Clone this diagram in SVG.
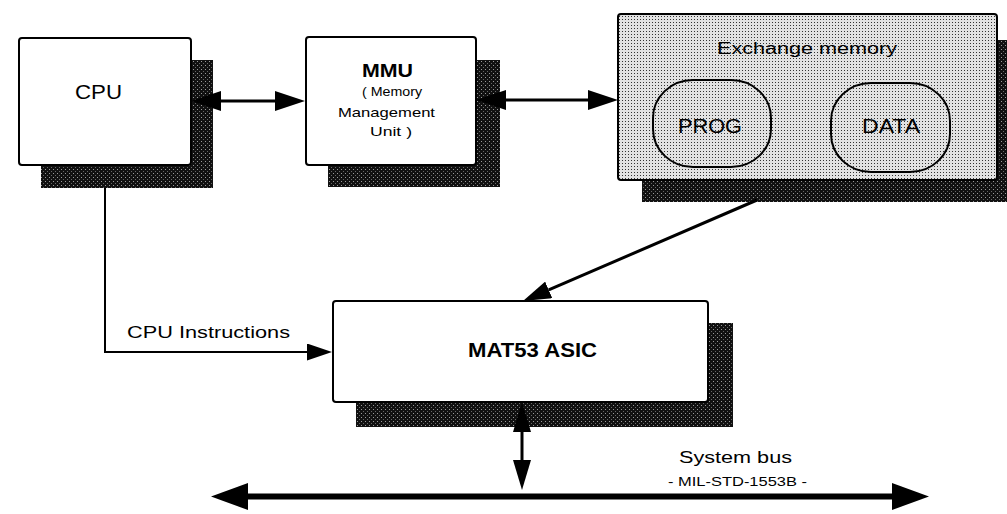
<svg xmlns="http://www.w3.org/2000/svg" width="1007" height="514" viewBox="0 0 1007 514">
  <style>
    .box { fill: #ffffff; stroke: #000; stroke-width: 2; }
    .grey { fill: url(#halftone); stroke: #000; stroke-width: 2; }
    .shadow { fill: url(#shade); }
    .lbl { font-family: "Liberation Sans", Arial, sans-serif; fill: #000; }
    .b { font-weight: bold; }
    .wire { fill: none; stroke: #000; }
  </style>
  <defs>
    <!-- dark halftone used for the drop shadows -->
    <pattern id="shade" width="4" height="4" patternUnits="userSpaceOnUse">
      <rect width="4" height="4" fill="#111"/>
      <rect x="1" y="1" width="1" height="1" fill="#9a9a9a"/>
      <rect x="3" y="3" width="1" height="1" fill="#666"/>
    </pattern>
    <!-- light halftone for the memory block -->
    <pattern id="halftone" width="3" height="3" patternUnits="userSpaceOnUse">
      <rect width="3" height="3" fill="#e2e2e2"/>
      <rect x="1" y="1" width="1" height="1" fill="#333"/>
    </pattern>
    <!-- arrowheads: the base sits on the path end, the tip points outward -->
    <marker id="headL" markerUnits="userSpaceOnUse" markerWidth="30" markerHeight="20" viewBox="0 0 30 20" refX="0" refY="10" orient="auto-start-reverse">
      <path d="M0,0 L30,10 L0,20 z" fill="#000"/>
    </marker>
    <marker id="headD" markerUnits="userSpaceOnUse" markerWidth="28" markerHeight="18" viewBox="0 0 28 18" refX="0" refY="9" orient="auto">
      <path d="M0,0 L28,9 L0,18 z" fill="#000"/>
    </marker>
    <marker id="headS" markerUnits="userSpaceOnUse" markerWidth="25" markerHeight="17" viewBox="0 0 25 17" refX="0" refY="8.5" orient="auto">
      <path d="M0,0 L25,8.5 L0,17 z" fill="#000"/>
    </marker>
    <marker id="headV" markerUnits="userSpaceOnUse" markerWidth="30" markerHeight="18" viewBox="0 0 30 18" refX="0" refY="9" orient="auto-start-reverse">
      <path d="M0,0 L30,9 L0,18 z" fill="#000"/>
    </marker>
    <marker id="headBus" markerUnits="userSpaceOnUse" markerWidth="37" markerHeight="27" viewBox="0 0 37 27" refX="0" refY="13.5" orient="auto-start-reverse">
      <path d="M0,0 L37,13.5 L0,27 z" fill="#000"/>
    </marker>
  </defs>

  <rect width="1007" height="514" fill="#ffffff"/>

  <g id="cpu">
    <rect class="shadow" x="41" y="60" width="172" height="128"/>
    <rect class="box" x="19" y="38" width="172" height="127" rx="3"/>
    <text class="lbl" x="75" y="99" font-size="20" textLength="47" lengthAdjust="spacingAndGlyphs">CPU</text>
  </g>

  <g id="mmu">
    <rect class="shadow" x="328" y="60" width="172" height="127"/>
    <rect class="box" x="306" y="37" width="170" height="128" rx="3"/>
    <text class="lbl b" x="362" y="77" font-size="19" textLength="51" lengthAdjust="spacingAndGlyphs">MMU</text>
    <text class="lbl" x="362" y="96" font-size="13" textLength="60" lengthAdjust="spacingAndGlyphs">( Memory</text>
    <text class="lbl" x="338" y="117" font-size="13" textLength="97" lengthAdjust="spacingAndGlyphs">Management</text>
    <text class="lbl" x="370" y="136" font-size="13" textLength="42" lengthAdjust="spacingAndGlyphs">Unit )</text>
  </g>

  <g id="exchange-memory">
    <rect class="shadow" x="642" y="40" width="380" height="162"/>
    <rect class="grey" x="618" y="14" width="379" height="166" rx="3"/>
    <text class="lbl" x="717" y="54" font-size="16" textLength="180" lengthAdjust="spacingAndGlyphs">Exchange memory</text>
    <g id="prog">
      <rect class="grey" x="653" y="80" width="118" height="87" rx="40" ry="38"/>
      <text class="lbl" x="678" y="133" font-size="20" textLength="64" lengthAdjust="spacingAndGlyphs">PROG</text>
    </g>
    <g id="data">
      <rect class="grey" x="831" y="83" width="119" height="89" rx="40" ry="38"/>
      <text class="lbl" x="862" y="133" font-size="20" textLength="58" lengthAdjust="spacingAndGlyphs">DATA</text>
    </g>
  </g>

  <g id="mat53-asic">
    <rect class="shadow" x="356" y="323" width="377" height="104"/>
    <rect class="box" x="333" y="301" width="375" height="101" rx="3"/>
    <text class="lbl b" x="468" y="357" font-size="20" textLength="129" lengthAdjust="spacingAndGlyphs">MAT53 ASIC</text>
  </g>

  <g id="bus-labels">
    <text class="lbl" x="679" y="463" font-size="16" textLength="113" lengthAdjust="spacingAndGlyphs">System bus</text>
    <text class="lbl" x="668" y="486" font-size="12" textLength="139" lengthAdjust="spacingAndGlyphs">- MIL-STD-1553B -</text>
  </g>

  <g id="connectors">
    <!-- CPU <-> MMU -->
    <path class="wire" d="M221,101 H275" stroke-width="3" marker-start="url(#headL)" marker-end="url(#headL)"/>
    <!-- MMU <-> exchange memory -->
    <path class="wire" d="M506,100 H588" stroke-width="3" marker-start="url(#headL)" marker-end="url(#headL)"/>
    <!-- exchange memory -> MAT53 -->
    <path class="wire" d="M757,200 L548.7,289.9" stroke-width="3" marker-end="url(#headD)"/>
    <!-- CPU instructions -->
    <path class="wire" d="M105,188 V352 H307" stroke-width="2" marker-end="url(#headS)"/>
    <text class="lbl" x="127" y="338" font-size="17" textLength="163" lengthAdjust="spacingAndGlyphs">CPU Instructions</text>
    <!-- MAT53 <-> system bus -->
    <path class="wire" d="M522,432 V460" stroke-width="3" marker-start="url(#headV)" marker-end="url(#headV)"/>
    <!-- system bus -->
    <path class="wire" d="M248,496.5 H892" stroke-width="6" marker-start="url(#headBus)" marker-end="url(#headBus)"/>
  </g>
</svg>
